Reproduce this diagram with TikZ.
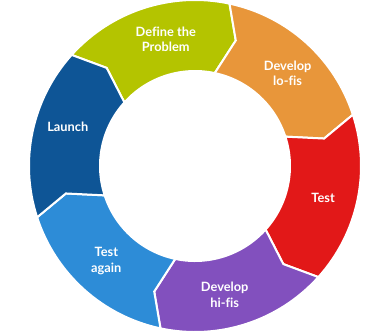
\documentclass[tikz,border=0pt]{standalone}
\usepackage{fontspec}
\setmainfont{Lato}[Ligatures=CommonOff]
\usetikzlibrary{positioning}
\definecolor{ProblemGreen}{RGB}{180,196,0}
\definecolor{LofiOrange}{RGB}{232,150,58}
\definecolor{TestRed}{RGB}{226,24,24}
\definecolor{HifiPurple}{RGB}{130,80,190}
\definecolor{AgainBlue}{RGB}{45,140,215}
\definecolor{LaunchBlue}{RGB}{14,85,150}

\def\Rout{166pt}
\def\Rmid{132pt}
\def\Rin{95pt}
% one arrow of the ring: colour, start angle, end angle (clockwise)
\newcommand{\ringseg}[3]{%
  \filldraw[draw=white, line width=2pt, line join=miter, fill=#1]
    (#2:\Rout) arc[start angle=#2, end angle=#3, radius=\Rout]
    -- (#3-6:\Rmid) -- (#3:\Rin)
    arc[start angle=#3, end angle=#2, radius=\Rin]
    -- (#2-6:\Rmid) -- cycle;}

\begin{document}
\begin{tikzpicture}[x=1pt,y=1pt, every node/.style={font=\bfseries\fontsize{12.8}{15.5}\selectfont,
    text=white, align=center}]
  \useasboundingbox (-195,-167) rectangle (195,166);
  \ringseg{ProblemGreen}{138}{78}
  \ringseg{LofiOrange}{78}{18}
  \ringseg{TestRed}{18}{-42}
  \ringseg{HifiPurple}{-42}{-102}
  \ringseg{AgainBlue}{-102}{-162}
  \ringseg{LaunchBlue}{198}{138}
  \node (problem) at (103:130pt) {Define the\\Problem};
  \node (lofi) at (45:131pt) {Develop\\lo-fis};
  \node (test) at (-14:132pt) {Test};
  \node (hifi) at (-77:132pt) {Develop\\hi-fis};
  \node (again) at (-133:130pt) {Test\\again};
  \node (launch) at (163:133pt) {Launch};
\end{tikzpicture}
\end{document}
